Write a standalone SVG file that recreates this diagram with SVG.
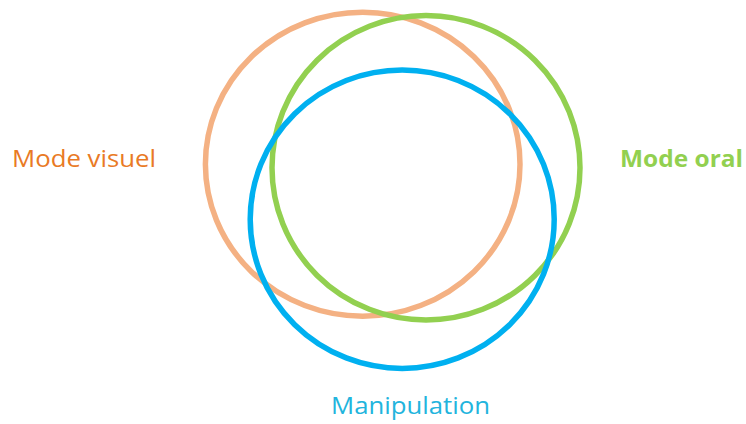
<svg xmlns="http://www.w3.org/2000/svg" width="746" height="424" viewBox="0 0 746 424">
  <style>
    .ring { fill: none; stroke-width: 5.5; }
    .lbl { font-family: "Open Sans", "Liberation Sans", sans-serif; font-size: 23px; }
  </style>
  <rect width="746" height="424" fill="#ffffff"/>
  <g id="visuel">
    <ellipse class="ring" cx="362.7" cy="164.2" rx="157.3" ry="152" stroke="#F4B183"/>
    <text class="lbl" x="12" y="167" fill="#E97A25" textLength="144" lengthAdjust="spacingAndGlyphs">Mode visuel</text>
  </g>
  <g id="oral">
    <ellipse class="ring" cx="426" cy="167.8" rx="154" ry="152.2" stroke="#92D050"/>
    <text class="lbl" x="620" y="167" fill="#92D050" font-weight="bold" textLength="123" lengthAdjust="spacingAndGlyphs">Mode oral</text>
  </g>
  <g id="manipulation">
    <ellipse class="ring" cx="402.2" cy="219.2" rx="152" ry="149.2" stroke="#00B0F0"/>
    <text class="lbl" x="331" y="414" fill="#22B4DD" textLength="159" lengthAdjust="spacingAndGlyphs">Manipulation</text>
  </g>
  <g id="connectors"/>
</svg>
